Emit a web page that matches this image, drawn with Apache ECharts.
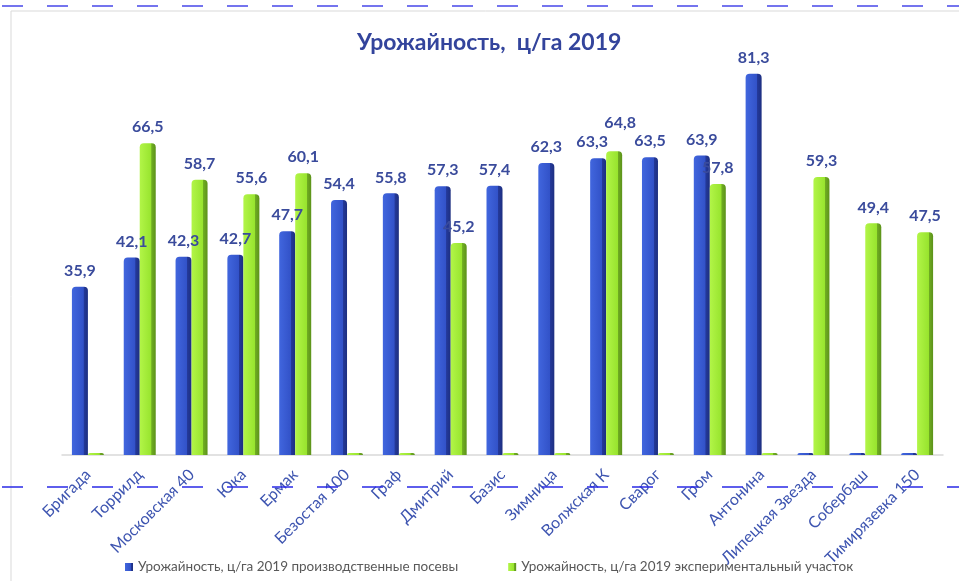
<!DOCTYPE html>
<html>
<head>
<meta charset="utf-8">
<script src="https://cdn.jsdelivr.net/npm/echarts@6/dist/echarts.min.js"></script>
<style>
  html, body { margin: 0; padding: 0; background: #fff; }
  #chart { width: 959px; height: 581px; }
</style>
</head>
<body>
<div id="chart"></div>
<script>
const categories = ['Бригада', 'Торрилд', 'Московская 40', 'Юка', 'Ермак', 'Безостая 100', 'Граф', 'Дмитрий', 'Базис', 'Зимница', 'Волжская К', 'Сварог', 'Гром', 'Антонина', 'Липецкая Звезда', 'Собербаш', 'Тимирязевка 150'];
const production = [35.9, 42.1, 42.3, 42.7, 47.7, 54.4, 55.8, 57.3, 57.4, 62.3, 63.3, 63.5, 63.9, 81.3, 0, 0, 0];
const experimental = [0, 66.5, 58.7, 55.6, 60.1, 0, 0, 45.2, 0, 0, 64.8, 0, 57.8, 0, 59.3, 49.4, 47.5];
const seriesNames = ['Урожайность, ц/га 2019 производственные посевы', 'Урожайность, ц/га 2019 экспериментальный участок'];

const FONT = 'Lato, "Open Sans", sans-serif';
const chart = echarts.init(document.getElementById('chart'));

// horizontal gradient fakes the 3D side face of the Excel columns
function barFill(light, mid, side, dark) {
  return new echarts.graphic.LinearGradient(0, 0, 1, 0, [
    { offset: 0, color: light },
    { offset: 0.72, color: mid },
    { offset: 0.74, color: side },
    { offset: 1, color: dark }
  ]);
}

const labelStyle = {
  show: true,
  position: 'top',
  distance: 8,
  color: '#3a4b9c',
  fontWeight: 'bold',
  fontSize: 16,
  fontFamily: FONT,
  formatter: p => p.value ? p.value.toFixed(1).replace('.', ',') : ''
};

// Excel nudged a couple of crowded labels apart
const expData = experimental.map((v, i) =>
  categories[i] === 'Волжская К'
    ? { value: v, label: { offset: [6, -12] } }
    : v);
const prodData = production.map((v, i) =>
  categories[i] === 'Волжская К'
    ? { value: v, label: { offset: [-6, 0] } }
    : v);

const option = {
  backgroundColor: '#fff',
  animation: false,
  title: {
    text: 'Урожайность,  ц/га 2019',
    left: 352,
    top: 26,
    textStyle: {
      color: '#33449c',
      fontSize: 23,
      fontWeight: 'bold',
      fontFamily: FONT
    }
  },
  legend: {
    bottom: 2,
    left: 120,
    itemGap: 50,
    itemWidth: 8,
    itemHeight: 8,
    icon: 'rect',
    textStyle: { color: '#595959', fontSize: 13.5, fontFamily: FONT },
    data: seriesNames
  },
  grid: { left: 62, right: 16, top: 33, bottom: 126 },
  xAxis: {
    type: 'category',
    data: categories,
    axisLine: { lineStyle: { color: '#d9d9d9', width: 1.5 } },
    axisTick: { show: false },
    axisLabel: {
      rotate: 45,
      interval: 0,
      margin: 17,
      color: '#3d54b0',
      fontSize: 16,
      fontFamily: FONT
    }
  },
  yAxis: {
    type: 'value',
    min: 0,
    max: 90,
    show: false,
    splitLine: { show: false }
  },
  series: [
    {
      name: seriesNames[0],
      type: 'bar',
      data: prodData,
      barWidth: 16,
      barGap: '0%',
      barMinHeight: 2,
      itemStyle: {
        color: barFill('#4166de', '#3252c8', '#24399a', '#1d2f80'),
        borderRadius: [4, 4, 0, 0]
      },
      label: labelStyle
    },
    {
      name: seriesNames[1],
      type: 'bar',
      data: expData,
      barWidth: 16,
      barMinHeight: 2,
      itemStyle: {
        color: barFill('#b2f548', '#98e42e', '#70ad22', '#5c921a'),
        borderRadius: [4, 4, 0, 0]
      },
      label: labelStyle
    }
  ],
  graphic: [
    {
      type: 'rect',
      shape: { x: 11, y: 11, width: 960, height: 580 },
      style: { fill: 'none', stroke: '#d9d9d9', lineWidth: 1 },
      z: -1
    },
    {
      type: 'line',
      shape: { x1: 2, y1: 6, x2: 959, y2: 6 },
      style: { stroke: '#7474ee', lineWidth: 2, lineDash: [21, 24] },
      z: 100
    },
    {
      type: 'line',
      shape: { x1: 2, y1: 487, x2: 959, y2: 487 },
      style: { stroke: '#2a2ae6', lineWidth: 1.5, lineDash: [21, 24] },
      z: 100
    }
  ]
};

chart.setOption(option);
</script>
</body>
</html>
